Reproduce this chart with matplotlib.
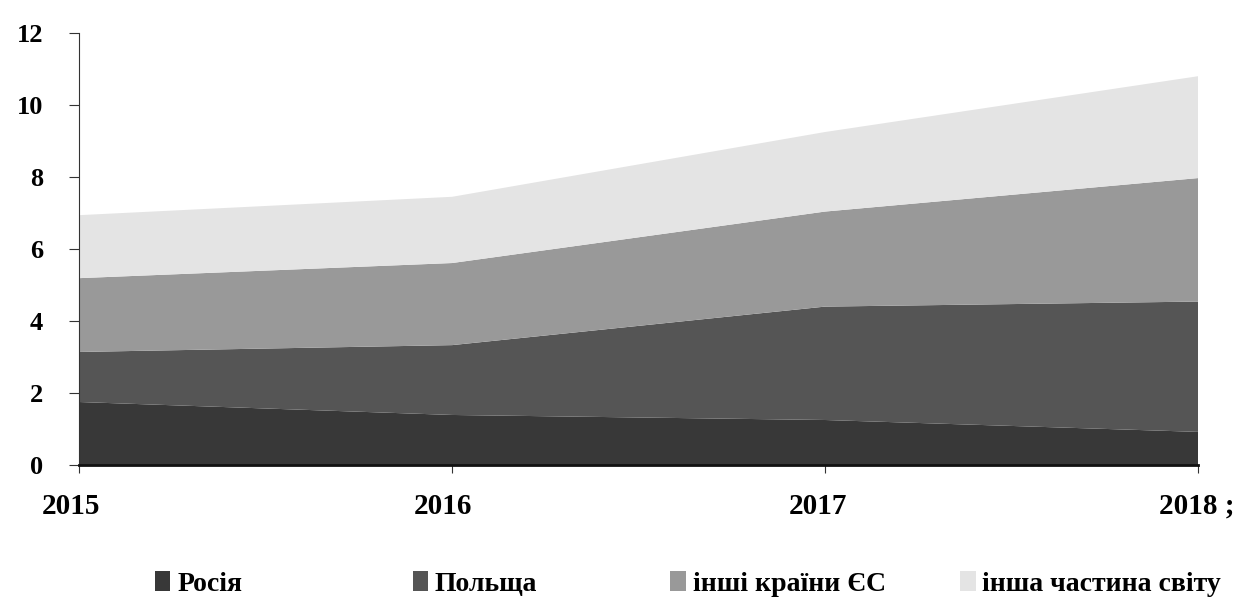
import matplotlib
matplotlib.use("Agg")
import matplotlib.pyplot as plt
from matplotlib.patches import Patch
from matplotlib.transforms import ScaledTranslation
from matplotlib.font_manager import FontProperties

years = [2015, 2016, 2017, 2018]
year_labels = ["2015", "2016", "2017", "2018 ;"]
russia = [1.75, 1.39, 1.25, 0.92]
poland = [1.39, 1.94, 3.15, 3.62]
other_eu = [2.05, 2.28, 2.64, 3.43]
rest_world = [1.75, 1.84, 2.21, 2.83]
series_names = ["Росія", "Польща", "інші країни ЄС", "інша частина світу"]
colors = ["#383838", "#555555", "#999999", "#e4e4e4"]
yticks = [0, 2, 4, 6, 8, 10, 12]

plt.rcParams['font.family'] = ['Liberation Serif', 'DejaVu Serif']
plt.rcParams['font.weight'] = 'bold'

fig = plt.figure(figsize=(12.39, 6), dpi=100)
ax = fig.add_axes([0.0638, 0.225, 0.967 - 0.0638, 0.945 - 0.225])
ax.stackplot(years, russia, poland, other_eu, rest_world, colors=colors, linewidth=0)
ax.set_xlim(2015, 2018)
ax.set_ylim(0, 12)
ax.set_yticks(yticks)
ax.set_yticklabels([str(v) for v in yticks], fontsize=19, fontweight='bold')
ax.set_xticks(years)
ax.set_xticklabels(year_labels, fontsize=21, fontweight='bold')
for s in ['top', 'right']:
    ax.spines[s].set_visible(False)
ax.spines['left'].set_color('#333333')
ax.spines['bottom'].set_color('#111111')
ax.spines['bottom'].set_linewidth(2)
ax.tick_params(axis='y', length=7, pad=19, color='#333333')
ax.tick_params(axis='x', length=6, pad=14, color='#333333')
dx = [-0.08, -0.09, -0.07, -0.01]
for lbl, d in zip(ax.get_xticklabels(), dx):
    lbl.set_transform(lbl.get_transform() + ScaledTranslation(d, 0, fig.dpi_scale_trans))

fp = FontProperties(family=['Liberation Serif', 'DejaVu Serif'], weight='bold', size=20)
legend_x = [0.125, 0.333, 0.541, 0.775]
for name, c, x in zip(series_names, colors, legend_x):
    fig.legend([Patch(facecolor=c, edgecolor='none')], [name], loc='center left',
               bbox_to_anchor=(x, 0.027), frameon=False, prop=fp,
               handlelength=0.55, handleheight=0.7, handletextpad=0.25,
               borderpad=0, borderaxespad=0)

fig.savefig("out.png", dpi=100)
